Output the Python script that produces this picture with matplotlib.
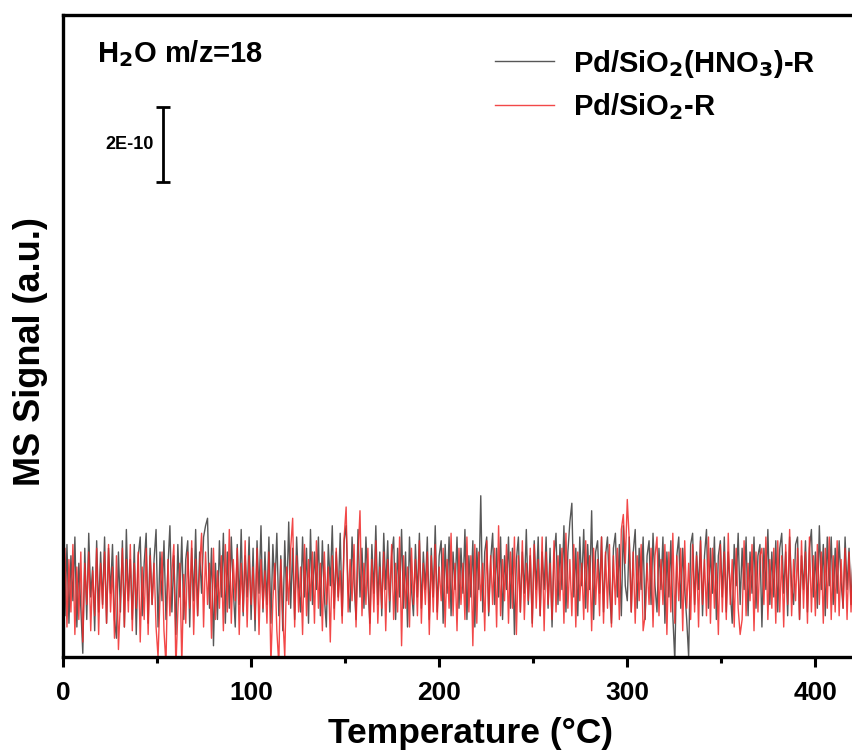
import numpy as np
import matplotlib
matplotlib.use("Agg")
import matplotlib.pyplot as plt

plt.rcParams['font.family'] = ['Liberation Sans', 'DejaVu Sans']
plt.rcParams['font.weight'] = 'bold'
plt.rcParams['mathtext.default'] = 'bf'

# signal values in units of 1e-10 (a.u.)
gray_vals = [
    2.6, 1.1, 3.0, 0.9, 2.7, 1.5, 3.2, 0.8, 2.5, 1.3, 0.1, 2.9, 1.0, 3.3, 1.6, 2.4, 0.7, 3.1, 1.2, 2.8,
    1.4, 3.2, 0.9, 2.9, 1.7, 3.0, 1.0, 0.5, 2.8, 1.2, 3.1, 0.8, 3.4, 1.5, 2.6, 1.0, 3.0, 0.6, 2.7, 3.2,
    1.1, 2.5, 3.3, 0.9, 2.9, 1.4, 2.6, 3.4, 0.8, 2.8, 1.5, 3.1, 1.0, 2.4, 3.5, 1.2, 2.7, 0.6, 3.0, 1.6,
    3.2, 1.0, 2.6, 3.1, 0.8, 2.9, 1.5, 3.4, 1.1, 2.8, 1.7, 3.2, 3.5, 3.7, 1.3, 2.9, 0.3, 2.5, 1.0, 3.1,
    1.6, 3.3, 0.9, 2.8, 1.3, 3.2, 1.8, 0.8, 3.0, 1.4, 3.4, 1.1, 2.7, 1.6, 3.2, 1.0, 2.9, 0.7, 3.1, 1.7,
    3.5, 1.2, 2.8, 1.4, 3.2, 0.9, 3.0, 1.8, 3.3, 1.1, 2.7, 0.7, 3.1, 1.5, 3.6, 1.3, 2.9, 1.0, 3.2, 1.9,
    1.2, 3.2, 1.6, 2.9, 0.9, 3.4, 1.4, 2.8, 1.8, 3.2, 1.1, 3.1, 1.6, 0.8, 3.0, 1.9, 3.5, 1.3, 2.8, 1.6,
    3.3, 1.1, 3.1, 3.5, 1.8, 1.2, 3.2, 2.0, 1.0, 3.4, 1.6, 2.9, 1.3, 3.2, 1.9, 0.9, 3.0, 1.7, 3.5, 1.4,
    2.8, 1.1, 3.3, 1.8, 3.1, 1.2, 2.7, 3.2, 1.0, 2.9, 1.6, 3.4, 1.3, 2.8, 0.8, 3.2, 1.8, 1.1, 3.0, 1.6,
    3.3, 1.3, 2.8, 1.8, 3.2, 1.0, 2.9, 1.6, 3.5, 1.2, 2.7, 3.1, 0.9, 3.0, 1.7, 3.2, 1.1, 2.8, 1.8, 3.2,
    1.3, 2.9, 1.7, 3.4, 1.0, 2.7, 1.6, 3.1, 0.8, 2.9, 1.8, 4.3, 1.2, 2.8, 3.2, 1.1, 2.6, 3.3, 1.4, 2.9,
    1.6, 3.2, 1.0, 2.7, 1.8, 3.2, 1.3, 2.9, 0.6, 2.6, 3.2, 1.2, 2.8, 1.7, 3.4, 1.4, 2.7, 0.9, 3.1, 1.8,
    3.2, 1.1, 2.8, 1.8, 3.2, 1.3, 2.9, 0.8, 2.7, 3.3, 1.4, 3.0, 1.8, 3.5, 1.2, 2.8, 3.6, 4.1, 1.6, 2.9,
    1.1, 3.2, 1.9, 3.4, 1.3, 3.0, 1.8, 3.9, 1.0, 2.8, 3.1, 1.7, 3.2, 1.2, 2.7, 3.2, 1.8, 0.9, 2.9, 3.3,
    1.6, 3.0, 1.1, 3.5, 1.9, 1.5, 3.2, 1.2, 2.8, 3.4, 1.3, 2.9, 1.8, 3.2, 1.0, 2.7, 3.1, 1.4, 3.3, 1.9,
    1.2, 2.9, 1.8, 3.2, 0.9, 2.8, 1.6, 3.1, 1.1, -0.1, 2.7, 3.2, 1.3, 2.9, 1.8, 1.0, 0.0, 3.0, 3.3, 1.4,
    2.8, 1.8, 3.2, 1.1, 2.7, 3.4, 1.3, 2.9, 1.7, 3.2, 1.0, 2.7, 3.1, 1.6, 3.2, 1.2, 2.8, 1.8, 0.9, 3.0,
    1.9, 3.3, 1.4, 2.9, 1.8, 3.2, 1.1, 2.8, 1.7, 3.2, 1.3, 2.7, 3.0, 0.8, 2.9, 1.8, 3.4, 1.4, 2.8, 1.6,
    3.1, 1.2, 2.9, 3.3, 1.7, 2.8, 1.1, 3.2, 1.9, 1.4, 3.0, 3.2, 1.0, 2.7, 1.8, 3.1, 1.2, 2.9, 3.4, 1.6,
    2.8, 1.3, 3.5, 1.8, 3.0, 1.1, 3.2, 1.9, 3.2, 1.4, 2.9, 1.7, 3.1, 2.0, 1.3, 3.2, 1.8, 2.9, 1.4, 2.7,
]
red_vals = [
    1.8, 2.9, 0.8, 2.6, 1.2, 3.0, 0.6, 2.4, 1.0, 2.8, 0.4, 2.5, 1.4, 2.8, 0.7, 2.3, 1.1, 2.9, 0.6, 2.5,
    1.3, 2.8, 0.9, 3.0, 1.2, 2.4, 0.5, 2.7, 0.2, 1.5, 2.9, 0.8, 2.6, 1.2, 3.0, 0.7, 2.5, 1.3, 2.8, 0.4,
    2.4, 1.0, 2.9, 0.6, 2.7, 1.4, 2.5, 0.8, 0.0, 1.6, 2.8, 0.7, -0.2, 2.6, 1.1, 2.3, 3.0, -0.3, 1.2, 2.5,
    -0.2, 2.2, 0.9, 2.8, 1.3, 3.1, 0.6, 2.6, 1.1, 2.4, 3.3, 0.8, 2.8, 1.4, 2.5, 0.5, 2.9, 1.0, 2.3, 1.3,
    2.7, 0.7, 3.0, 1.2, 3.4, 0.9, 2.6, 1.5, 2.9, 0.6, 2.5, 1.2, 3.1, 0.8, 2.7, 1.4, 2.4, 1.0, 2.9, 0.6,
    2.6, 1.3, 2.3, 0.9, 2.8, -0.2, 1.5, 2.5, 0.7, -0.2, 2.6, 1.1, 0.0, 2.4, 1.4, 2.9, 3.7, 0.8, 2.7, 1.2,
    2.4, 0.6, 3.0, 1.1, 2.6, 1.5, 2.8, 0.9, 3.1, 1.3, 2.5, 0.7, 2.8, 1.4, 2.4, 0.4, 2.7, 1.0, 2.9, 1.5,
    2.3, 0.9, 3.2, 4.0, 1.2, 2.6, 1.5, 3.0, 0.8, 2.7, 3.9, 1.1, 2.5, 1.4, 2.9, 0.6, 2.6, 1.2, 3.1, 0.9,
    2.4, 1.3, 2.8, 0.7, 2.6, 1.5, 3.0, 1.0, 2.5, 1.2, 3.2, 0.3, 2.7, 1.3, 2.4, 0.8, 2.9, 1.4, 2.6, 1.1,
    3.1, 0.9, 2.5, 1.4, 2.8, 0.6, 2.7, 1.2, 3.0, 1.0, 2.4, 1.5, 2.9, 0.8, 2.6, 1.3, 3.3, 1.1, 2.5, 0.7,
    2.9, 1.4, 2.5, 1.0, 3.2, 1.2, 2.7, 0.3, 3.0, 0.9, 2.8, 1.5, 2.5, 0.7, 3.1, 1.2, 2.7, 1.4, 2.9, 0.8,
    3.5, 1.1, 2.6, 1.5, 3.0, 0.9, 2.8, 1.3, 3.2, 0.6, 2.7, 1.2, 3.1, 1.0, 2.5, 1.5, 2.9, 0.8, 3.0, 1.3,
    2.6, 1.1, 3.2, 0.7, 2.8, 1.4, 2.5, 1.0, 3.1, 1.2, 2.7, 1.5, 2.9, 0.9, 3.3, 1.3, 2.6, 1.1, 3.0, 0.8,
    2.8, 1.5, 2.5, 1.0, 3.1, 1.2, 2.7, 0.7, 2.9, 1.4, 2.6, 1.1, 3.2, 0.9, 2.8, 1.3, 3.0, 0.8, 2.7, 1.4,
    2.9, 1.0, 3.4, 3.8, 2.5, 4.2, 3.1, 1.2, 2.8, 0.9, 2.7, 1.5, 3.0, 0.7, 1.1, 2.5, 1.4, 2.9, 0.8, 2.7,
    3.2, 1.1, 2.6, 1.4, 3.0, 0.6, 2.8, 1.2, 3.3, 0.9, 2.7, 1.5, 2.9, 0.7, 3.1, 1.3, 2.5, 1.0, 3.0, 1.2,
    2.7, 0.8, 3.1, 1.4, 2.6, 1.1, 3.2, 0.9, 2.9, 1.3, 2.5, 0.6, 3.0, 1.2, 2.8, 1.0, 3.3, 1.4, 2.6, 0.8,
    2.9, 1.3, 0.6, 1.0, 3.1, 1.1, 2.5, 1.5, 3.0, 0.7, 2.8, 1.2, 2.7, 2.9, 1.4, 3.2, 1.0, 2.6, 1.3, 2.9,
    0.9, 3.1, 1.2, 2.7, 0.8, 3.0, 1.4, 3.4, 1.1, 2.6, 1.5, 2.9, 1.0, 3.1, 1.3, 2.8, 0.9, 3.2, 1.2, 2.7,
    1.1, 3.0, 1.4, 2.8, 0.9, 2.9, 1.3, 3.2, 1.0, 2.7, 1.2, 3.1, 1.1, 2.6, 1.3, 2.9, 1.0, 2.8, 1.2, 2.6,
]
temperature = np.linspace(0, 420, len(gray_vals))
x_ticks = [0, 100, 200, 300, 400]
labels = ['Pd/SiO$_2$(HNO$_3$)-R', 'Pd/SiO$_2$-R']

fig = plt.figure(figsize=(8.53, 7.54), dpi=100)
ax = fig.add_axes([63/853, 1-657/754, 1-63/853, (657-15)/754])

ax.plot(temperature, np.array(gray_vals), color='#3a3a3a', lw=1.0, alpha=0.85, label=labels[0])
ax.plot(temperature, np.array(red_vals), color='#f02828', lw=1.0, alpha=0.85, label=labels[1])

ax.set_xlim(0, 420)
ax.set_ylim(0, 642/37.5)
ax.set_xticks(x_ticks)
ax.set_xticks([50, 150, 250, 350], minor=True)
ax.set_yticks([])
ax.tick_params(axis='x', which='major', direction='out', length=7, width=2.2, labelsize=19, pad=10)
ax.tick_params(axis='x', which='minor', direction='out', length=4, width=2.2)
for lab in ax.get_xticklabels():
    lab.set_fontweight('bold')
for s in ['left', 'bottom', 'top']:
    ax.spines[s].set_linewidth(2.4)
ax.spines['right'].set_visible(False)

ax.set_xlabel('Temperature (°C)', fontsize=25.5, fontweight='bold')
ax.xaxis.set_label_coords((471-63)/790, -(733-657)/642, transform=ax.transAxes)
ax.xaxis.label.set_va('center')
ax.set_ylabel('MS Signal (a.u.)', fontsize=26, fontweight='bold')
ax.yaxis.set_label_coords(-(63-31)/790, (657-352)/642, transform=ax.transAxes)
ax.yaxis.label.set_va('center')

ax.text(0.043, 0.94, 'H$_2$O m/z=18', transform=ax.transAxes, fontsize=21,
        fontweight='bold', va='center', ha='left')

# scale bar: 2E-10
ax.errorbar([53], [13.67], yerr=[[1.0], [1.0]], fmt='none', ecolor='black',
            elinewidth=2, capsize=5, capthick=2)
ax.text(48.5, 13.67, '2E-10', fontsize=13, fontweight='bold', ha='right', va='center')

leg = ax.legend(loc='upper right', bbox_to_anchor=(0.985, 0.99), frameon=False,
                fontsize=21, handlelength=2.0, handletextpad=0.65, labelspacing=0.38)
for t in leg.get_texts():
    t.set_fontweight('bold')

fig.savefig('out.png', dpi=100)
